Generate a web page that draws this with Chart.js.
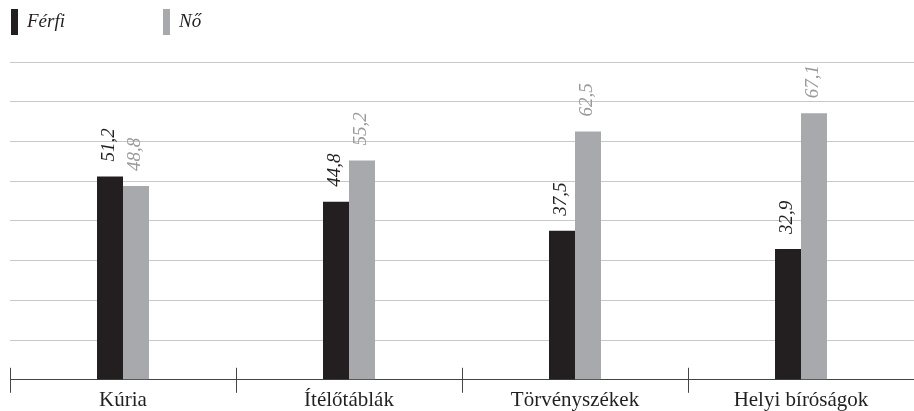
<!DOCTYPE html>
<html>
<head>
<meta charset="utf-8">
<script src="https://cdn.jsdelivr.net/npm/chart.js@4"></script>
<style>
  html, body { margin: 0; padding: 0; background: #fff; }
  #wrap { width: 914px; height: 411px; }
</style>
</head>
<body>
<div id="wrap"><canvas id="chart" width="914" height="411"></canvas></div>
<script>
const categories = ['Kúria', 'Ítélőtáblák', 'Törvényszékek', 'Helyi bíróságok'];
const ferfi = [51.2, 44.8, 37.5, 32.9];
const no = [48.8, 55.2, 62.5, 67.1];
const seriesNames = ['Férfi', 'Nő'];

const darkCol = '#231f20';
const grayCol = '#a7a9ac';
const serif = '"Liberation Serif", "DejaVu Serif", serif';

// rotated value labels above the bars
const valueLabels = {
  id: 'valueLabels',
  afterDatasetsDraw(chart) {
    const ctx = chart.ctx;
    chart.data.datasets.forEach((ds, di) => {
      const meta = chart.getDatasetMeta(di);
      meta.data.forEach((bar, i) => {
        const txt = ds.data[i].toFixed(1).replace('.', ',');
        ctx.save();
        ctx.translate(bar.x - 1, bar.y - 15);
        ctx.rotate(-Math.PI / 2);
        ctx.font = 'italic 19px ' + serif;
        ctx.fillStyle = di === 0 ? darkCol : '#9a9a9d';
        ctx.textAlign = 'left';
        ctx.textBaseline = 'middle';
        ctx.fillText(txt, 0, 0);
        ctx.restore();
      });
    });
  }
};

// category boundary ticks crossing the axis line
const boundaryTicks = {
  id: 'boundaryTicks',
  afterDraw(chart) {
    const ctx = chart.ctx;
    const x = chart.scales.x;
    const y0 = chart.chartArea.bottom;
    const half = (x.getPixelForValue(1) - x.getPixelForValue(0)) / 2;
    ctx.save();
    ctx.strokeStyle = '#444';
    ctx.lineWidth = 1;
    for (let i = 0; i < categories.length; i++) {
      const px = Math.round(x.getPixelForValue(i) - half) + 0.5;
      ctx.beginPath();
      ctx.moveTo(px, y0 - 12);
      ctx.lineTo(px, y0 + 13);
      ctx.stroke();
    }
    ctx.restore();
  }
};

// legend drawn in the top-left corner
const topLegend = {
  id: 'topLegend',
  afterDraw(chart) {
    const ctx = chart.ctx;
    const spots = [11, 163];
    ctx.save();
    chart.data.datasets.forEach((ds, di) => {
      ctx.fillStyle = ds.backgroundColor;
      ctx.fillRect(spots[di], 9, 7, 26);
      ctx.fillStyle = darkCol;
      ctx.font = 'italic 19px ' + serif;
      ctx.textBaseline = 'middle';
      ctx.fillText(ds.label, spots[di] + 16, 22);
    });
    ctx.restore();
  }
};

new Chart(document.getElementById('chart'), {
  type: 'bar',
  data: {
    labels: categories,
    datasets: [
      { label: seriesNames[0], data: ferfi, backgroundColor: darkCol },
      { label: seriesNames[1], data: no, backgroundColor: grayCol }
    ]
  },
  options: {
    responsive: false,
    animation: false,
    categoryPercentage: 0.23,
    barPercentage: 1,
    layout: { padding: { left: 10, top: 62, right: 0, bottom: -2 } },
    plugins: { legend: { display: false }, tooltip: { enabled: false } },
    scales: {
      x: {
        grid: { display: false },
        border: { display: true, color: '#444', width: 1 },
        ticks: { color: '#231f20', padding: 0, font: { family: serif, size: 21 } }
      },
      y: {
        min: 0,
        max: 80,
        ticks: { display: false, stepSize: 10 },
        grid: { color: '#c8c8c8', drawTicks: false },
        border: { display: false }
      }
    }
  },
  plugins: [valueLabels, boundaryTicks, topLegend]
});
</script>
</body>
</html>
